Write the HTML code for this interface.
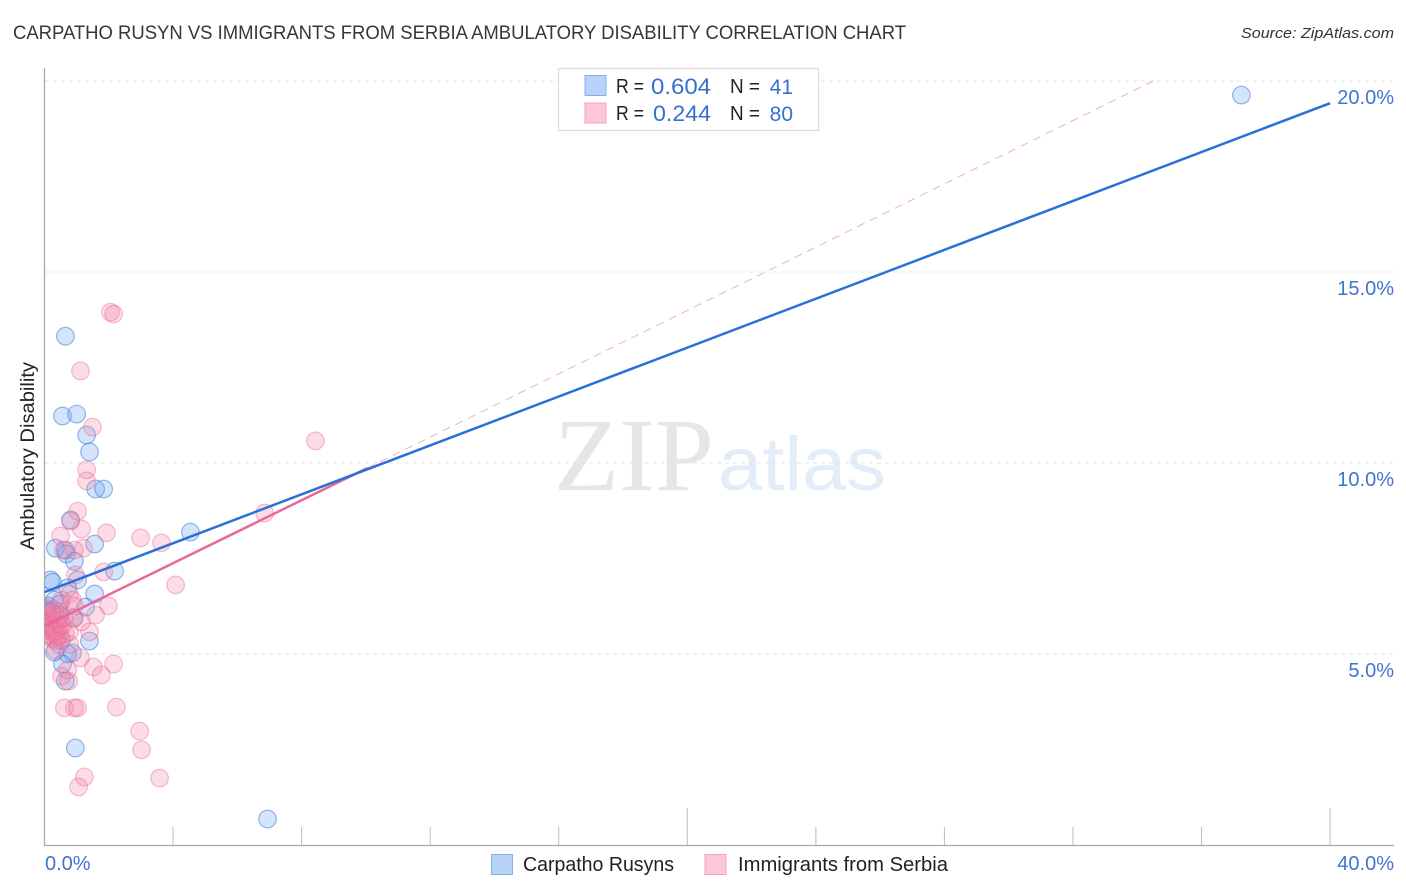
<!DOCTYPE html>
<html><head><meta charset="utf-8"><title>Carpatho Rusyn vs Immigrants from Serbia</title>
<style>
html,body{margin:0;padding:0;background:#fff;width:1406px;height:892px;overflow:hidden}
svg{display:block}
text{font-family:"Liberation Sans",sans-serif}
</style></head>
<body>
<svg id="chart" width="1406" height="892" viewBox="0 0 1406 892" xmlns="http://www.w3.org/2000/svg">
<defs><clipPath id="plot-clip"><rect x="45" y="60" width="1350" height="786"/></clipPath></defs>
<text x="13" y="39" font-size="19.3" fill="#33373d" textLength="893" lengthAdjust="spacingAndGlyphs">CARPATHO RUSYN VS IMMIGRANTS FROM SERBIA AMBULATORY DISABILITY CORRELATION CHART</text>
<text x="1241" y="38" font-size="15" font-style="italic" fill="#333" textLength="153" lengthAdjust="spacingAndGlyphs">Source: ZipAtlas.com</text>
<g>
<text x="554" y="490" font-size="104" fill="#e6e6e6" style="font-family:'Liberation Serif',serif" textLength="160" lengthAdjust="spacingAndGlyphs">ZIP</text>
<text x="718" y="490" font-size="76" fill="#e3ecf9" textLength="168" lengthAdjust="spacingAndGlyphs">atlas</text>
</g>
<g id="grid"></g>
<g id="axes"></g>
<g id="pts" clip-path="url(#plot-clip)"></g>
<g id="lines"></g>
<text transform="translate(34,456) rotate(-90)" font-size="19.5" fill="#222" text-anchor="middle" textLength="188" lengthAdjust="spacingAndGlyphs">Ambulatory Disability</text>
<g>
<rect x="558.5" y="68.5" width="260" height="62" fill="#fff" stroke="#ddd" stroke-width="1.2"/>
<rect x="585" y="75.5" width="21" height="20" fill="#b8d3f7" stroke="#7fb0ea"/>
<rect x="585" y="103" width="21" height="20" fill="#fdc8d9" stroke="#f4a3bd"/>
<text font-size="20" fill="#222" x="616" y="93" textLength="28" lengthAdjust="spacingAndGlyphs">R =</text>
<text font-size="22" fill="#3470d0" x="651" y="94" textLength="60" lengthAdjust="spacingAndGlyphs">0.604</text>
<text font-size="20" fill="#222" x="730" y="93" textLength="30" lengthAdjust="spacingAndGlyphs">N =</text>
<text font-size="21" fill="#3470d0" x="793" y="94" text-anchor="end">41</text>
<text font-size="20" fill="#222" x="616" y="120" textLength="28" lengthAdjust="spacingAndGlyphs">R =</text>
<text font-size="22" fill="#3470d0" x="653" y="121" textLength="58" lengthAdjust="spacingAndGlyphs">0.244</text>
<text font-size="20" fill="#222" x="730" y="120" textLength="30" lengthAdjust="spacingAndGlyphs">N =</text>
<text font-size="21" fill="#3470d0" x="793" y="121" text-anchor="end">80</text>
</g>
<g>
<rect x="491.5" y="854.5" width="21" height="20" fill="#b8d3f7" stroke="#7fb0ea"/>
<text x="523" y="871" font-size="20" fill="#222" textLength="151" lengthAdjust="spacingAndGlyphs">Carpatho Rusyns</text>
<rect x="705" y="854.5" width="21" height="20" fill="#fdc8d9" stroke="#f4a3bd"/>
<text x="738" y="871" font-size="20" fill="#222" textLength="210" lengthAdjust="spacingAndGlyphs">Immigrants from Serbia</text>
</g>
</svg>
<script>
var yTicks = [5, 10, 15, 20];
var xTickValues = [0, 4, 8, 12, 16, 20, 24, 28, 32, 36, 40];
var xTallTicks = [20, 40];
var xLabels = [0, 40];
var blueX = [37.24,.65,.56,1.00,1.31,1.40,1.59,1.84,.81,.34,1.56,.65,.68,.93,2.18,.19,.25,1.03,.72,1.56,1.28,.12,.47,.90,1.40,.87,.72,.31,.56,.65,.96,4.54,6.94,.09,.22,.40,.16,.47,.31,.53,.06];
var blueY = [19.63,13.32,11.23,11.28,10.73,10.29,9.32,9.32,8.51,7.77,7.88,7.72,7.62,7.43,7.17,6.94,6.88,6.94,6.73,6.57,6.23,6.26,6.31,5.94,5.34,5.03,5.00,5.05,4.74,4.29,2.54,8.19,.68,6.10,5.94,5.84,5.63,6.02,6.41,5.37,6.15];
var pinkX = [2.05,2.15,1.12,1.49,1.31,1.31,1.03,1.15,1.93,2.99,3.64,.50,.81,1.21,.93,.59,1.84,4.08,.96,1.99,1.59,8.43,6.85,2.15,1.52,1.77,.53,.75,.62,.93,1.03,2.24,2.96,3.02,3.58,1.24,1.06,1.12,1.40,1.15,.93,.78,.87,.53,.93,.72,.34,.78,.65,.78,.47,.06,.1,.15,.2,.25,.3,.35,.4,.45,.5,.1,.15,.2,.25,.3,.35,.4,.45,.05,.12,.18,.28,.38,.48,.55,.6,.22,.32,.08];
var pinkY = [13.95,13.90,12.41,10.94,9.82,9.53,8.74,8.27,8.17,8.04,7.91,8.09,8.48,7.77,7.72,7.72,7.15,6.81,7.07,6.26,6.02,10.58,8.69,4.74,4.66,4.45,4.42,4.29,3.59,3.59,3.59,3.61,2.98,2.49,1.75,1.78,1.52,4.90,5.58,5.84,5.94,6.57,6.41,6.41,6.26,4.58,5.10,5.26,5.52,5.58,6.10,6.2,6.05,5.95,5.85,5.9,5.8,5.75,5.95,5.7,5.9,5.7,5.6,5.5,5.4,5.55,5.35,5.45,5.25,5.85,5.8,5.75,5.65,5.6,5.5,5.75,5.95,6.1,6.15,5.5];
var blueTrendX = [0, 40];
var blueTrendY = [6.62, 19.42];
var pinkTrendX = [0, 10.05];
var pinkTrendY = [5.73, 9.87];
var pinkDashX = [10.05, 34.5];
var pinkDashY = [9.87, 20];

var NS = 'http://www.w3.org/2000/svg';
function xs(v){ return 44.5 + v * 32.14; }
function ys(v){ return 845 - v * 38.2; }
function mk(parent, tag, attrs, text){
  var el = document.createElementNS(NS, tag);
  for (var k in attrs) el.setAttribute(k, attrs[k]);
  if (text !== undefined) el.textContent = text;
  document.getElementById(parent).appendChild(el);
  return el;
}
var el;
yTicks.forEach(function(t){
  el = mk('grid', 'line', {x1:45, x2:1393, y1:ys(t), y2:ys(t), stroke:'#e3e3e3', 'stroke-width':1, 'stroke-dasharray':'4 4'});
  
  
  el = mk('axes', 'text', {x:1394, y:ys(t) + 23, 'font-size':20, fill:'#3f74cf', 'text-anchor':'end'}, t.toFixed(1) + '%');
  
  
});
el = mk('axes', 'line', {x1:44.5, x2:44.5, y1:68, y2:846, stroke:'#aaa', 'stroke-width':1.3});


el = mk('axes', 'line', {x1:44, x2:1394, y1:845.5, y2:845.5, stroke:'#aaa', 'stroke-width':1.3});


xTickValues.forEach(function(t){
  if (t === 0) return;
  var tall = xTallTicks.indexOf(t) >= 0;
  el = mk('axes', 'line', {x1:xs(t), x2:xs(t), y1:tall ? 808 : 827, y2:845, stroke:'#bdbdbd', 'stroke-width':1});
  
  
});
xLabels.forEach(function(t, i){
  el = mk('axes', 'text', {x:i === 0 ? 45 : 1394, y:870, 'font-size':20, fill:'#3f74cf', 'text-anchor':i === 0 ? 'start' : 'end'}, t.toFixed(1) + '%');
  
  
});
blueX.forEach(function(v, i){
  el = mk('pts', 'circle', {cx:xs(v), cy:ys(blueY[i]), r:8.8, fill:'rgba(100,160,240,0.28)', stroke:'rgba(50,115,210,0.5)', 'stroke-width':1.2});
  
  
});
pinkX.forEach(function(v, i){
  el = mk('pts', 'circle', {cx:xs(v), cy:ys(pinkY[i]), r:8.8, fill:'rgba(245,130,165,0.28)', stroke:'rgba(230,95,140,0.4)', 'stroke-width':1.2});
  
  
});
el = mk('lines', 'line', {x1:xs(pinkDashX[0]), y1:ys(pinkDashY[0]), x2:xs(pinkDashX[1]), y2:ys(pinkDashY[1]), stroke:'#eeb0c4', 'stroke-width':1, 'stroke-dasharray':'8 6'});


el = mk('lines', 'line', {x1:xs(pinkTrendX[0]), y1:ys(pinkTrendY[0]), x2:xs(pinkTrendX[1]), y2:ys(pinkTrendY[1]), stroke:'#e8689a', 'stroke-width':2.5});


el = mk('lines', 'line', {x1:xs(blueTrendX[0]), y1:ys(blueTrendY[0]), x2:xs(blueTrendX[1]), y2:ys(blueTrendY[1]), stroke:'#2a70d8', 'stroke-width':2.5});


</script>
</body></html>
